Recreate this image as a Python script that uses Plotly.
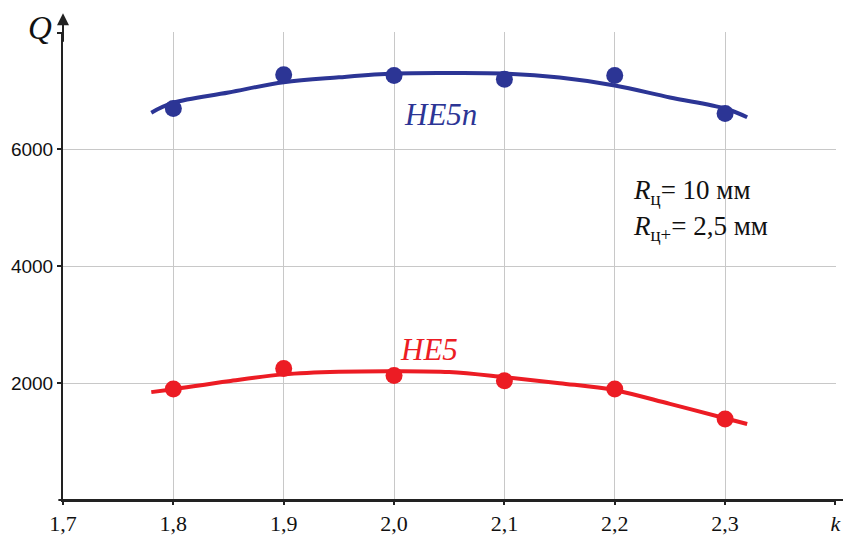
import plotly.graph_objects as go

# measured points
k_pts = [1.8, 1.9, 2.0, 2.1, 2.2, 2.3]
q_he5n_pts = [6700, 7280, 7265, 7200, 7265, 6615]
q_he5_pts = [1900, 2250, 2130, 2040, 1900, 1385]

# fitted curves
k_fit = [1.78, 1.80, 1.85, 1.90, 1.95, 2.00, 2.05, 2.10, 2.15, 2.20, 2.25, 2.30, 2.32]
q_he5n_fit = [6630, 6800, 6975, 7150, 7235, 7300, 7310, 7300, 7230, 7095, 6890, 6700, 6550]
q_he5_fit = [1846, 1897, 2034, 2150, 2195, 2205, 2190, 2103, 2000, 1880, 1645, 1400, 1300]

x_tickvals = [1.7, 1.8, 1.9, 2.0, 2.1, 2.2, 2.3, 2.4]
x_ticktext = ["1,7", "1,8", "1,9", "2,0", "2,1", "2,2", "2,3", "<i>k</i>"]
y_tickvals = [2000, 4000, 6000, 8000]
y_ticktext = ["2000", "4000", "6000", ""]

BLUE = "#2C3595"
RED = "#EC1C24"

fig = go.Figure()
fig.add_trace(go.Scatter(x=k_fit, y=q_he5n_fit, mode="lines",
                         line=dict(color=BLUE, width=4, shape="spline"), showlegend=False))
fig.add_trace(go.Scatter(x=k_pts, y=q_he5n_pts, mode="markers",
                         marker=dict(color=BLUE, size=17), showlegend=False))
fig.add_trace(go.Scatter(x=k_fit, y=q_he5_fit, mode="lines",
                         line=dict(color=RED, width=4, shape="spline"), showlegend=False))
fig.add_trace(go.Scatter(x=k_pts, y=q_he5_pts, mode="markers",
                         marker=dict(color=RED, size=17), showlegend=False))

serif = "Liberation Serif"
ann = [
    dict(x=2.042, y=6600, text="<i>HE5n</i>", showarrow=False,
         font=dict(family=serif, size=31, color=BLUE)),
    dict(x=2.032, y=2570, text="<i>HE5</i>", showarrow=False,
         font=dict(family=serif, size=31, color=RED)),
    dict(x=2.215, y=5280, xanchor="left", text="<i>R</i><sub>ц</sub>= 10 мм", showarrow=False,
         font=dict(family=serif, size=27, color="#111")),
    dict(x=2.215, y=4650, xanchor="left", text="<i>R</i><sub>ц+</sub>= 2,5 мм", showarrow=False,
         font=dict(family=serif, size=27, color="#111")),
    dict(xref="paper", yref="paper", x=-0.03, y=1.008, xanchor="center", yanchor="middle",
         text="<i>Q</i>", showarrow=False,
         font=dict(family=serif, size=33, color="#111")),
    dict(xref="paper", yref="paper", x=0, y=1.04, ax=0, ay=30, text="", showarrow=True,
         arrowhead=2, arrowsize=1.2, arrowwidth=2, arrowcolor="#222"),
]

fig.update_layout(
    width=843, height=531,
    margin=dict(l=55, r=15, t=24, b=39),
    paper_bgcolor="white", plot_bgcolor="white",
    annotations=ann,
    shapes=[dict(type="line", xref="paper", yref="paper", x0=-0.006, x1=1.03, y0=0, y1=0,
                 line=dict(color="#222", width=2))],
    xaxis=dict(range=[1.7, 2.4005], tickvals=x_tickvals, ticktext=x_ticktext,
               showgrid=True, gridcolor="#c8c8c8", gridwidth=1,
               showline=True, linecolor="#222", linewidth=2,
               ticks="outside", ticklen=3, tickwidth=2, tickcolor="#222",
               tickfont=dict(family=serif, size=22, color="#111"),
               zeroline=False, automargin=False),
    yaxis=dict(range=[0, 8010], tickvals=y_tickvals, ticktext=y_ticktext,
               showgrid=True, gridcolor="#c8c8c8", gridwidth=1,
               showline=True, linecolor="#222", linewidth=2,
               ticks="outside", ticklen=4, tickwidth=2, tickcolor="#222",
               tickfont=dict(family="Liberation Sans", size=19, color="#111"),
               zeroline=False, automargin=False),
)

fig.write_html("out.html")
